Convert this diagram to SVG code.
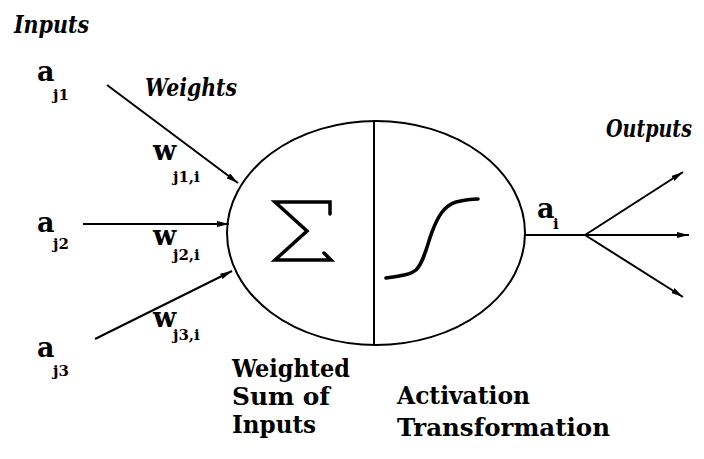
<svg xmlns="http://www.w3.org/2000/svg" width="704" height="459" viewBox="0 0 704 459">
<style>
text{font-family:"DejaVu Serif","Liberation Serif",serif;font-weight:bold;fill:#000}
.it{font-style:italic;font-size:24px}
.bd{font-size:25px;font-stretch:condensed}
.var{font-size:27px}
.sub{font-size:15px}
.ln{stroke:#000;stroke-width:2;fill:none}
.thick{stroke:#000;stroke-width:3.5;fill:none;stroke-linejoin:miter;stroke-linecap:round}
</style>
<defs>
<marker id="ah" viewBox="0 0 12 6" refX="12" refY="3" markerWidth="12" markerHeight="6" markerUnits="userSpaceOnUse" orient="auto">
<path d="M0,0 L12,3 L0,6 Z" fill="#000"/>
</marker>
</defs>
<rect width="704" height="459" fill="#fff"/>
<text class="it" x="14" y="33" textLength="75" lengthAdjust="spacingAndGlyphs">Inputs</text>
<text class="it" x="145" y="96" textLength="92" lengthAdjust="spacingAndGlyphs">Weights</text>
<text class="it" transform="translate(606,137) scale(0.85,1)" x="0" y="0" textLength="101" lengthAdjust="spacingAndGlyphs">Outputs</text>
<g id="in1"><text class="var" x="37" y="81">a</text><text class="sub" x="53" y="100">j1</text></g>
<g id="in2"><text class="var" x="37" y="232">a</text><text class="sub" x="53" y="249">j2</text></g>
<g id="in3"><text class="var" x="37" y="357">a</text><text class="sub" x="53" y="376">j3</text></g>
<g id="w1"><text class="var" x="153" y="160">w</text><text class="sub" x="173" y="182">j1,i</text></g>
<g id="w2"><text class="var" x="153" y="245">w</text><text class="sub" x="173" y="260">j2,i</text></g>
<g id="w3"><text class="var" x="153" y="327">w</text><text class="sub" x="173" y="340">j3,i</text></g>
<g id="neuron">
<ellipse class="ln" cx="376" cy="233" rx="149" ry="112"/>
<line class="ln" x1="374" y1="121" x2="374" y2="345"/>
<path class="thick" d="M330,214 L330,202 L275,202 L307,231 L275,260 L331,260 L324,253"/>
<path class="thick" d="M386,278 C400,276 410,275 416,270 C424,262 427,245 432,232 C438,216 444,206 456,202 C464,200 472,199 478,199"/>
</g>
<g id="out"><text class="var" x="537" y="218">a</text><text class="sub" x="553" y="229">i</text></g>
<g id="labels">
<text class="bd" x="232" y="377" textLength="118" lengthAdjust="spacingAndGlyphs">Weighted</text>
<text class="bd" x="232" y="405" textLength="98" lengthAdjust="spacingAndGlyphs">Sum of</text>
<text class="bd" x="232" y="433" textLength="84" lengthAdjust="spacingAndGlyphs">Inputs</text>
<text class="bd" x="397" y="404" textLength="133" lengthAdjust="spacingAndGlyphs">Activation</text>
<text class="bd" x="397" y="436" textLength="213" lengthAdjust="spacingAndGlyphs">Transformation</text>
</g>
<g id="connectors">
<line class="ln" x1="107" y1="85" x2="238" y2="183" marker-end="url(#ah)"/>
<line class="ln" x1="83" y1="224" x2="229" y2="224" marker-end="url(#ah)"/>
<line class="ln" x1="95" y1="339" x2="232" y2="271" marker-end="url(#ah)"/>
<line class="ln" x1="525" y1="235" x2="585" y2="235"/>
<line class="ln" x1="585" y1="235" x2="683" y2="172" marker-end="url(#ah)"/>
<line class="ln" x1="585" y1="235" x2="689" y2="235" marker-end="url(#ah)"/>
<line class="ln" x1="585" y1="235" x2="683" y2="297" marker-end="url(#ah)"/>
</g>
</svg>
